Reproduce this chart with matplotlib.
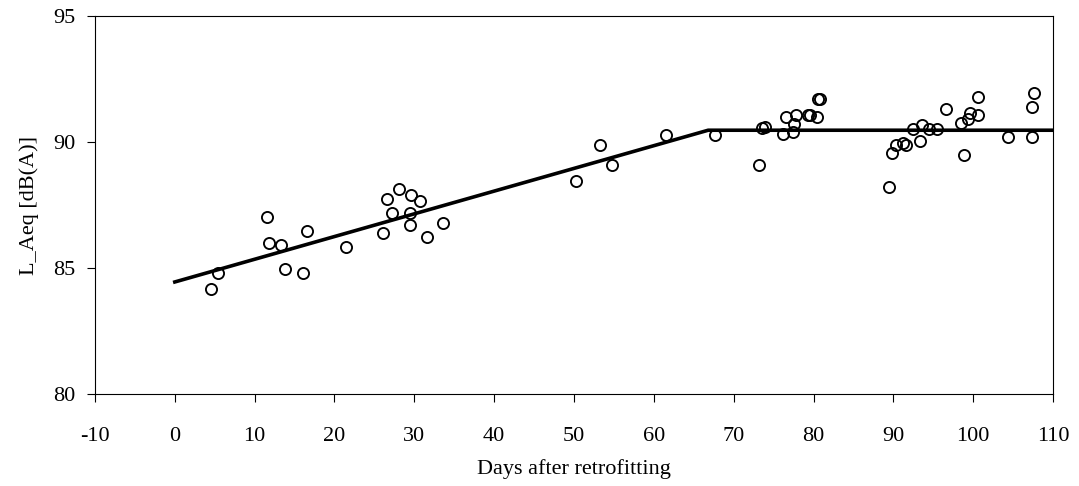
import numpy as np
import matplotlib

matplotlib.use("Agg")

import matplotlib.pyplot as plt

# Measured points (days after retrofitting, L_Aeq in dB(A)).
days = [4.5, 5.4, 11.6, 11.8, 13.3, 13.85, 16.1, 16.6, 21.4,
        26.1, 26.6, 27.2, 28.1, 29.4, 29.4, 29.6, 30.7, 31.6, 33.6,
        50.2, 53.2, 54.7, 61.5, 67.7,
        73.2, 73.6, 73.9, 76.2, 76.6, 77.4, 77.5, 77.8, 79.3, 79.6, 80.4,
        80.6, 80.8,
        89.5, 89.8, 90.3, 91.2, 91.6, 92.5, 93.3, 93.6, 94.5, 95.4, 96.6,
        98.5, 98.8, 99.3, 99.6, 100.6, 100.6, 104.4, 107.3, 107.3, 107.6]
laeq = [84.17, 84.81, 87.01, 85.98, 85.93, 84.95, 84.81, 86.46, 85.82,
        86.40, 87.73, 87.19, 88.13, 87.19, 86.72, 87.91, 87.65, 86.24, 86.79,
        88.45, 89.88, 89.09, 90.28, 90.28,
        89.09, 90.55, 90.6, 90.34, 91.0, 90.41, 90.70, 91.07, 91.07, 91.07, 90.98,
        91.7, 91.7,
        88.21, 89.58, 89.88, 89.97, 89.88, 90.52, 90.04, 90.69, 90.52, 90.50, 91.31,
        90.74, 89.48, 90.9, 91.16, 91.07, 91.80, 90.20, 90.20, 91.39, 91.93]

# Fitted piecewise linear trend.
trendDays = [0, 66.8, 110]
trendLevel = [84.45, 90.47, 90.47]

plt.rcParams['font.family'] = ['Liberation Serif', 'DejaVu Serif']
plt.rcParams['font.size'] = 16
plt.rcParams['axes.unicode_minus'] = False

fig = plt.figure(figsize=(10.79, 4.86), dpi=100, facecolor="white")
ax = fig.add_axes([0.088, 0.189, 0.888, 0.778])

ax.plot(trendDays, trendLevel, color="black", linewidth=2.6, zorder=2)
ax.plot(days, laeq, linestyle="none", marker="o", markersize=8,
        markerfacecolor="none", markeredgecolor="black", markeredgewidth=1.35,
        zorder=3)

ax.set_xlim(-10, 110)
ax.set_ylim(80, 95)
ax.set_xticks(np.arange(-10, 111, 10))
ax.set_yticks([80, 85, 90, 95])

for spine in ax.spines.values():
  spine.set_linewidth(0.8)
  spine.set_color("black")

ax.tick_params(axis='both', direction='out', length=6, width=0.8,
               labelsize=16, colors="black")
ax.tick_params(axis='x', pad=18)
ax.tick_params(axis='y', pad=8)

ax.set_xlabel("Days after retrofitting", fontsize=16, labelpad=9)
ax.set_ylabel("L_Aeq [dB(A)]", fontsize=16, labelpad=10)

fig.savefig("out.png", dpi=100, facecolor="white")
plt.close()
